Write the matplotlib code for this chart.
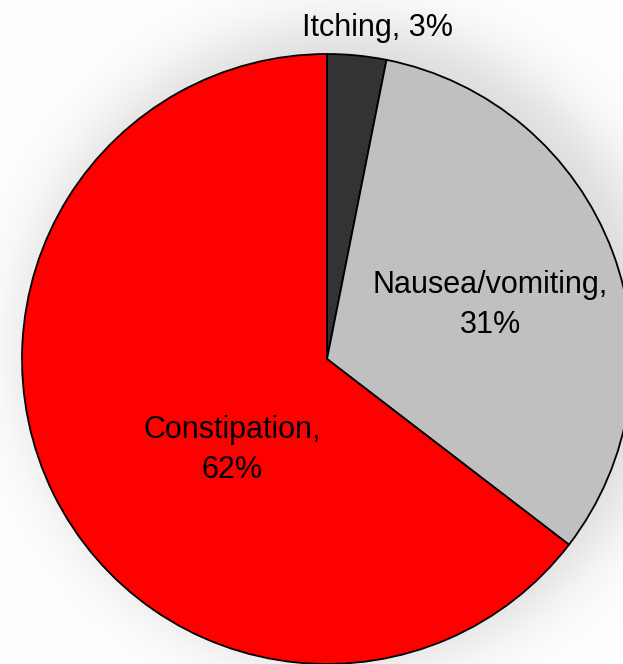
import numpy as np
import matplotlib
matplotlib.use("Agg")
import matplotlib.pyplot as plt

categories = ["Itching", "Nausea/vomiting", "Constipation"]
values = [3, 31, 62]
colors = ["#333333", "#C0C0C0", "#FF0000"]

W, H = 623, 664
fig = plt.figure(figsize=(W / 100, H / 100), dpi=100)
ax = fig.add_axes([0, 0, 1, 1])
ax.set_xlim(0, W)
ax.set_ylim(0, H)
ax.set_aspect("equal")
ax.axis("off")

# soft background shadow
yy, xx = np.mgrid[0:H, 0:W]
d = np.hypot(xx - 345, (H - yy) - 320)
shade = 1 - 0.15 / (1 + np.exp((d - 318) / 20))
img = np.dstack([shade, shade, shade])
ax.imshow(img, extent=(0, W, 0, H), origin="upper", zorder=0)

cx, cy, R = 327, 305, 305
wedges, _ = ax.pie(values, colors=colors, startangle=90, counterclock=False,
                   center=(cx, cy), radius=R, frame=True,
                   wedgeprops=dict(edgecolor="black", linewidth=1.3))
for w in wedges:
    w.set_zorder(2)
ax.set_xlim(0, W)
ax.set_ylim(0, H)
ax.axis("off")

font = dict(family=["Liberation Sans", "DejaVu Sans"], fontsize=22, color="black",
            ha="center", va="center", zorder=3, linespacing=1.45)
ax.text(377, H - 28, f"{categories[0]}, {values[0]}%", **font)
ax.text(490, H - 305, f"{categories[1]},\n{values[1]}%", **font)
ax.text(232, H - 450, f"{categories[2]},\n{values[2]}%", **font)

fig.savefig("out.png", dpi=100)
